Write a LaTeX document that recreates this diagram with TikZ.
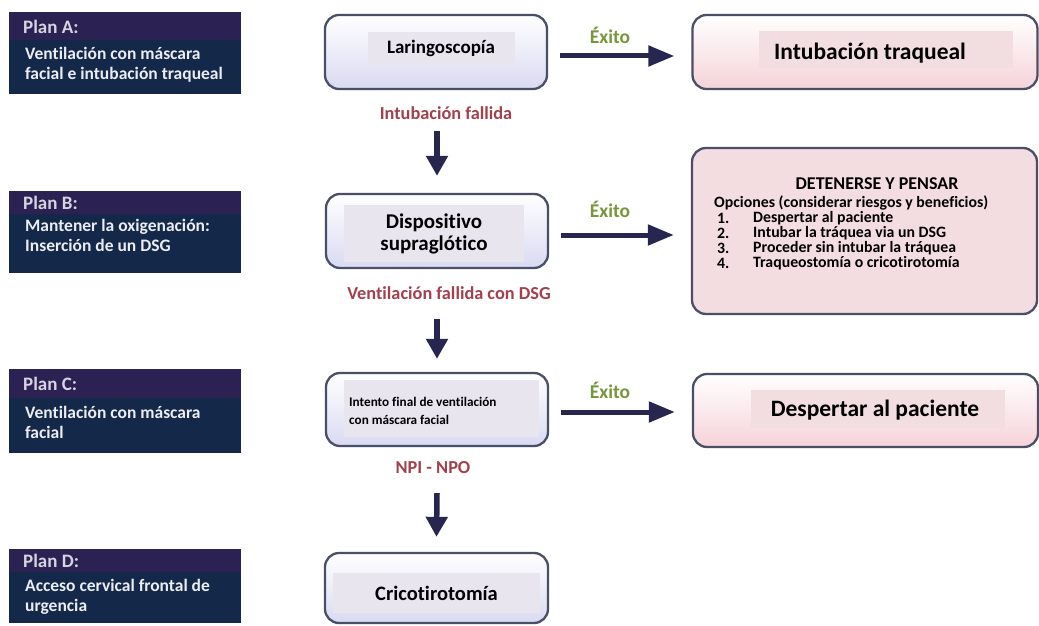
\documentclass[tikz,border=0pt]{standalone}
\usepackage{fontspec}
\setmainfont{Carlito}[Ligatures=NoCommon]
\usetikzlibrary{arrows.meta}
\definecolor{hdr}{HTML}{2B2152}
\definecolor{body}{HTML}{14284A}
\definecolor{hdrtxt}{HTML}{D6D4E0}
\definecolor{bodytxt}{HTML}{ECECF2}
\definecolor{bordc}{HTML}{4A4F68}
\definecolor{lavb}{HTML}{D9DAF2}
\definecolor{laveinner}{HTML}{E8E5EE}
\definecolor{pinkb}{HTML}{F6D3D8}
\definecolor{pinkinner}{HTML}{F2DEE1}
\definecolor{pinkfill}{HTML}{F3DDE0}
\definecolor{arrowc}{HTML}{26264F}
\definecolor{okc}{HTML}{76973A}
\definecolor{failc}{HTML}{A3404B}
\begin{document}
\begin{tikzpicture}[x=1pt,y=-1pt,
  planbody/.style={fill=body, inner sep=0pt, anchor=north west, minimum width=232pt},
  planhead/.style={fill=hdr, inner sep=0pt, anchor=north west, minimum width=232pt},
  headtxt/.style={anchor=west, inner sep=0pt, text=hdrtxt, font=\fontsize{19}{22}\selectfont\bfseries},
  bodytext/.style={anchor=north west, inner sep=0pt, text=bodytxt, align=left, font=\fontsize{17.5}{20}\selectfont\bfseries},
  mainbox/.style={draw=bordc, line width=2.3pt, rounded corners=14pt, top color=white, bottom color=lavb, minimum width=222pt, minimum height=74pt, inner sep=0pt},
  resbox/.style={draw=bordc, line width=2.3pt, rounded corners=14pt, top color=white, bottom color=pinkb, minimum width=345pt, minimum height=74pt, inner sep=0pt},
  innerl/.style={fill=laveinner, inner sep=0pt, align=center},
  innerp/.style={fill=pinkinner, inner sep=0pt},
  restext/.style={inner sep=0pt, font=\fontsize{23.5}{26}\selectfont\bfseries},
  okl/.style={text=okc, inner sep=0pt, font=\fontsize{19.5}{22}\selectfont\bfseries},
  faill/.style={text=failc, inner sep=0pt, font=\fontsize{18.3}{20}\selectfont\bfseries},
  harrow/.style={draw=arrowc, line width=5pt, -{Triangle[length=26pt,width=20pt]}},
  varrow/.style={draw=arrowc, line width=5.5pt, -{Triangle[length=20pt,width=21pt]}},
  opt/.style={anchor=west, inner sep=0pt, font=\fontsize{15.8}{17}\selectfont\bfseries}
]
\useasboundingbox (0,0) rectangle (1039,626);
\fill[white] (0,0) rectangle (1039,626);

% ---- Plan boxes ----
\node[planbody, minimum height=82pt] (pA) at (9,12) {};
\node[planhead, minimum height=28pt] (pAh) at (9,12) {};
\node[headtxt] (pAt) at (23,27) {Plan A:};
\node[bodytext] (pAb) at (25,47) {Ventilación con máscara\\facial e intubación traqueal};

\node[planbody, minimum height=82pt] (pB) at (9,191) {};
\node[planhead, minimum height=23pt] (pBh) at (9,191) {};
\node[headtxt] (pBt) at (23,203) {Plan B:};
\node[bodytext] (pBb) at (25,219) {Mantener la oxigenación:\\Inserción de un DSG};

\node[planbody, minimum height=84pt] (pC) at (9,369) {};
\node[planhead, minimum height=29pt] (pCh) at (9,369) {};
\node[headtxt] (pCt) at (23,384) {Plan C:};
\node[bodytext] (pCb) at (25,406) {Ventilación con máscara\\facial};

\node[planbody, minimum height=74pt] (pD) at (9,549) {};
\node[planhead, minimum height=23pt] (pDh) at (9,549) {};
\node[headtxt] (pDt) at (23,561) {Plan D:};
\node[bodytext] (pDb) at (25,579) {Acceso cervical frontal de\\urgencia};

% ---- Centre column ----
\node[mainbox] (A1) at (436,52) {};
\node[innerl, minimum width=147pt, minimum height=32pt, font=\fontsize{19}{22}\selectfont\bfseries] (A1t) at (441,48) {Laringoscopía};

\node[mainbox] (B1) at (437,231) {};
\node[innerl, minimum width=180pt, minimum height=57pt, font=\fontsize{21}{22}\selectfont\bfseries] (B1t) at (434,233.5) {Dispositivo\\supraglótico};

\node[mainbox, minimum height=73pt] (C1) at (437,409.5) {};
\node[fill=laveinner, inner sep=0pt, minimum width=195pt, minimum height=57pt] (C1i) at (441,408.5) {};
\node[anchor=west, inner sep=0pt, align=left, font=\fontsize{13.2}{18}\selectfont\bfseries] (C1t) at (349,411) {Intento final de ventilación\\con máscara facial};

\node[mainbox, minimum width=223pt, minimum height=70pt] (D1) at (436.5,588) {};
\node[innerl, minimum width=207pt, minimum height=40pt, font=\fontsize{20.5}{22}\selectfont\bfseries] (D1t) at (436.5,593) {Cricotirotomía};

% ---- Right column ----
\node[resbox] (A2) at (865,52) {};
\node[innerp, minimum width=254pt, minimum height=37pt] (A2i) at (886,49.5) {};
\node[restext] (A2t) at (870,53) {Intubación traqueal};

\node[draw=bordc, line width=2.3pt, rounded corners=14pt, fill=pinkfill, minimum width=345pt, minimum height=166pt, inner sep=0pt] (B2) at (864.5,231) {};
\node[inner sep=0pt, font=\fontsize{18}{20}\selectfont\bfseries] (B2h) at (877,184) {DETENERSE Y PENSAR};
\node[opt] (B2o) at (714,203) {Opciones (considerar riesgos y beneficios)};
\node[opt] (n1) at (717,218.5) {1.};
\node[opt] (o1) at (753,218.5) {Despertar al paciente};
\node[opt] (n2) at (717,233.5) {2.};
\node[opt] (o2) at (753,233.5) {Intubar la tráquea via un DSG};
\node[opt] (n3) at (717,248.5) {3.};
\node[opt] (o3) at (753,248.5) {Proceder sin intubar la tráquea};
\node[opt] (n4) at (717,263.5) {4.};
\node[opt] (o4) at (753,263.5) {Traqueostomía o cricotirotomía};

\node[resbox, minimum height=73pt] (C2) at (865.5,410.5) {};
\node[innerp, minimum width=254pt, minimum height=38pt] (C2i) at (878,409) {};
\node[restext] (C2t) at (875,410) {Despertar al paciente};

% ---- Horizontal arrows ----
\draw[harrow] ([xshift=12pt,yshift=-4pt]A1.east) -- ([xshift=-17pt,yshift=-4pt]A2.west);
\draw[harrow] ([xshift=12pt,yshift=-4pt]B1.east) -- ([xshift=-17pt,yshift=-4pt]B2.west);
\coordinate (h3s) at ([xshift=12pt,yshift=-2.5pt]C1.east);
\coordinate (h3e) at ([xshift=-17pt]h3s -| C2.west);
\draw[harrow] (h3s) -- (h3e);
\node[okl] (ok1) at (610,35) {Éxito};
\node[okl] (ok2) at (610,209) {Éxito};
\node[okl] (ok3) at (610,390) {Éxito};

% ---- Vertical arrows ----
\draw[varrow] ([xshift=1pt,yshift=-41pt]A1.south) -- ([yshift=17pt]B1.north);
\draw[varrow] ([yshift=-50pt]B1.south) -- ([yshift=13pt]C1.north);
\draw[varrow] ([yshift=-46pt]C1.south) -- ([yshift=15pt]D1.north);
\node[faill] (f1) at (446,113) {Intubación fallida};
\node[faill] (f2) at (449,293) {Ventilación fallida con DSG};
\node[faill] (f3) at (433,468) {NPI - NPO};
\end{tikzpicture}
\end{document}
